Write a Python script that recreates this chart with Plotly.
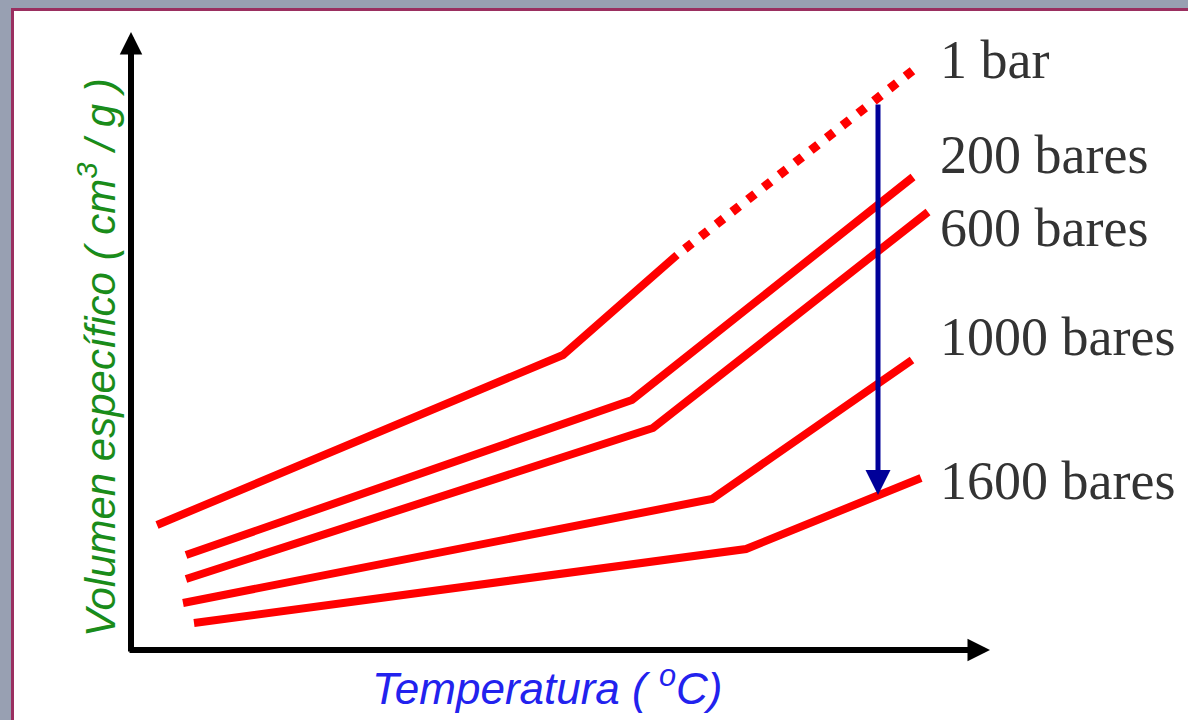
import plotly.graph_objects as go

# ---- data (arbitrary units: temperature vs specific volume, origin at axes corner) ----
series_names = ["1 bar", "200 bares", "600 bares", "1000 bares", "1600 bares"]
temp_1bar = [26, 432, 546]
vol_1bar = [125, 295, 395]
temp_1bar_dotted = [546, 785]
vol_1bar_dotted = [395, 582]
temp_200 = [55, 501, 782]
vol_200 = [95, 250, 473]
temp_600 = [55, 522, 797]
vol_600 = [71, 222, 438]
temp_1000 = [52, 581, 781]
vol_1000 = [47, 151, 290]
temp_1600 = [63, 615, 790]
vol_1600 = [27, 101, 172]
x_title = "Temperatura ( <sup>o</sup>C)"
y_title = "Volumen específico ( cm<sup>3</sup> / g )"

# ---- layout constants ----
X_RANGE = [-131, 1057]
Y_RANGE = [-70, 650]
RED = "#ff0000"
LW = 8
label_x = 807
label_y = [590, 495, 422, 313, 169]

fig = go.Figure()

solid = [(temp_1bar, vol_1bar), (temp_200, vol_200), (temp_600, vol_600),
         (temp_1000, vol_1000), (temp_1600, vol_1600)]
for (tx, vy), name in zip(solid, series_names):
    fig.add_trace(go.Scatter(x=tx, y=vy, mode="lines", name=name,
                             line=dict(color=RED, width=LW),
                             hoverinfo="skip"))
fig.add_trace(go.Scatter(x=temp_1bar_dotted, y=vol_1bar_dotted, mode="lines",
                         name="1 bar (vapor)",
                         line=dict(color=RED, width=9, dash="0px,10px,9px,1px"),
                         hoverinfo="skip"))

# background panel with border
fig.add_shape(type="rect", x0=-118.5, x1=1100, y0=640.5, y1=-100,
              xref="x", yref="y", fillcolor="white",
              line=dict(color="#9a2f60", width=3), layer="below")

annotations = []
# axes arrows
annotations.append(dict(x=0, y=618, ax=0, ay=-3, xref="x", yref="y",
                        axref="x", ayref="y", text="", showarrow=True,
                        arrowhead=2, arrowsize=0.75, arrowwidth=6,
                        arrowcolor="black"))
annotations.append(dict(x=859, y=0, ax=-3, ay=0, xref="x", yref="y",
                        axref="x", ayref="y", text="", showarrow=True,
                        arrowhead=2, arrowsize=0.75, arrowwidth=6,
                        arrowcolor="black"))
# pressure arrow
annotations.append(dict(x=747, y=155, ax=747, ay=547, xref="x", yref="y",
                        axref="x", ayref="y", text="", showarrow=True,
                        arrowhead=2, arrowsize=1.0, arrowwidth=5,
                        arrowcolor="#000099"))
# series labels
for name, ly in zip(series_names, label_y):
    annotations.append(dict(x=label_x, y=ly, xref="x", yref="y", text=name,
                            showarrow=False, xanchor="left", yanchor="middle",
                            font=dict(family="Liberation Serif, Times New Roman, serif",
                                      size=54, color="#333333")))
# axis titles
annotations.append(dict(x=416, y=-35, xref="x", yref="y", text=x_title,
                        showarrow=False, xanchor="center", yanchor="middle",
                        font=dict(family="Liberation Sans, Arial, sans-serif",
                                  size=44, color="#2222ee", style="italic")))
annotations.append(dict(x=-34, y=292, xref="x", yref="y", text=y_title,
                        showarrow=False, xanchor="center", yanchor="middle",
                        textangle=-90,
                        font=dict(family="Liberation Sans, Arial, sans-serif",
                                  size=42, color="#1a8c1a", style="italic")))

fig.update_layout(
    width=1188, height=720,
    margin=dict(l=0, r=0, t=0, b=0),
    paper_bgcolor="#98a0b2",
    plot_bgcolor="rgba(0,0,0,0)",
    showlegend=False,
    xaxis=dict(range=X_RANGE, visible=False, fixedrange=True),
    yaxis=dict(range=Y_RANGE, visible=False, fixedrange=True),
    annotations=annotations,
)

fig.write_html(
    "out.html",
    config={"displayModeBar": False},
    post_script="document.body.style.margin='0';"
                "document.body.style.overflow='hidden';"
                "document.body.style.background='#98a0b2';",
)
